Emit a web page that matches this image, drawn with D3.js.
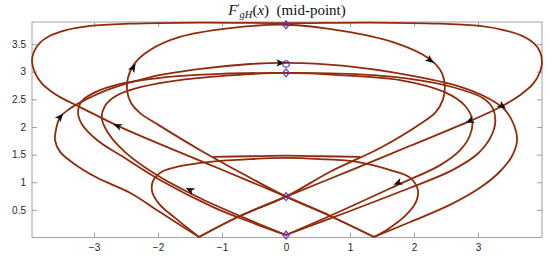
<!DOCTYPE html>
<html><head><meta charset="utf-8">
<script src="https://cdn.jsdelivr.net/npm/d3@7"></script>
<style>body{margin:0;background:#fff}svg{display:block}</style>
</head><body>
<svg id="c" width="550" height="259"></svg>
<script>
const xTicks=[-3,-2,-1,0,1,2,3];
const yTicks=[0.5,1,1.5,2,2.5,3,3.5];
const xDomain=[-3.97,4.0];
const yDomain=[0,3.9];
// outer loop (V-right -> left tip -> top -> right tip -> V-left)
const curveL1=[[1.375,0.01],[0.69,0.39],[0,0.74],[-1.03,1.24],[-1.97,1.69],[-2.63,2.02],[-3.22,2.36],[-3.45,2.49],[-3.64,2.62],[-3.81,2.78],[-3.92,2.97],[-3.97,3.18],[-3.94,3.36],[-3.84,3.53],[-3.69,3.65],[-3.45,3.75],[-3.06,3.83],[-2.44,3.87],[-1.34,3.89],[0,3.88],[1.31,3.89],[2.41,3.87],[3.03,3.83],[3.42,3.75],[3.69,3.65],[3.88,3.51],[3.97,3.36],[4.0,3.18],[3.97,3.0],[3.86,2.78],[3.66,2.58],[3.38,2.38],[2.88,2.11],[1.94,1.66],[1.0,1.21],[0,0.74],[-0.72,0.39],[-1.36,0.01]];
// second loop
const curveL2=[[1.375,0.01],[0.69,0.39],[0,0.74],[-0.64,1.13],[-1.34,1.58],[-1.97,2.02],[-2.28,2.25],[-2.42,2.43],[-2.48,2.63],[-2.47,2.89],[-2.36,3.16],[-2.13,3.39],[-1.66,3.63],[-0.875,3.79],[0,3.85],[0.875,3.74],[1.66,3.54],[2.22,3.25],[2.41,3.03],[2.48,2.76],[2.45,2.49],[2.34,2.27],[2.09,2.05],[1.47,1.62],[0.69,1.19],[0,0.74],[-0.72,0.39],[-1.36,0.01]];
const curveA=[[-1.36,0.01],[-1.97,0.46],[-2.44,0.81],[-2.95,1.08],[-3.33,1.35],[-3.53,1.55],[-3.61,1.76],[-3.59,1.98],[-3.53,2.18],[-3.38,2.33],[-3.14,2.49],[-2.75,2.69],[-2.13,2.90],[-1.34,3.05],[-0.56,3.14],[0,3.16],[0.875,3.11],[1.91,2.94],[2.69,2.74],[3.16,2.52],[3.42,2.31],[3.56,2.04],[3.61,1.76],[3.53,1.47],[3.34,1.19],[3.03,0.90],[2.56,0.59],[1.94,0.28],[1.375,0.01]];
const curveB=[[0,0.045],[-0.56,0.28],[-1.14,0.55],[-1.97,1.04],[-2.55,1.46],[-2.95,1.76],[-3.19,2.05],[-3.25,2.27],[-3.19,2.47],[-2.98,2.63],[-2.59,2.78],[-1.97,2.89],[-1.03,2.96],[0,2.98],[1.0,2.96],[1.94,2.87],[2.64,2.71],[3.08,2.52],[3.23,2.34],[3.27,2.09],[3.2,1.82],[3.0,1.52],[2.6,1.22],[1.94,0.9],[1.0,0.48],[0,0.045]];
const curveC=[[0,0.045],[-0.64,0.35],[-1.34,0.71],[-2.02,1.13],[-2.52,1.55],[-2.78,1.89],[-2.88,2.16],[-2.83,2.38],[-2.66,2.56],[-2.28,2.72],[-1.66,2.85],[-0.80,2.94],[0,2.98],[0.84,2.94],[1.78,2.85],[2.48,2.63],[2.80,2.38],[2.91,2.13],[2.875,1.85],[2.72,1.58],[2.41,1.31],[1.78,0.97],[0.84,0.47],[0,0.045]];
const curveP=[[-1.36,0.01],[-1.73,0.35],[-1.97,0.59],[-2.09,0.82],[-2.08,1.02],[-1.94,1.19],[-1.66,1.29],[-1.19,1.37],[-0.56,1.42],[0,1.44],[0.53,1.42],[1.11,1.37],[1.63,1.22],[1.94,1.08],[2.06,0.86],[2.03,0.64],[1.86,0.39],[1.59,0.15],[1.375,0.01]];
const curveFlat=[[-1.14,1.46],[-0.56,1.47],[0,1.48],[0.56,1.47],[1.16,1.46]];
// arrows: [x, y, dx, dy]
const arrows=[[-2.39,3.07,0.3,0.6],[2.25,3.21,0.28,-0.25],[-3.53,2.18,0.22,0.29],[-2.63,2.02,-0.66,0.33],[-0.09,3.16,1,0],[3.375,2.38,0.27,-0.22],[2.875,2.11,-0.94,-0.45],[-1.5,0.86,-0.83,0.49],[1.75,0.99,-0.7,-0.33]];
const diamonds=[[0,3.85],[0,2.98],[0,0.74],[0,0.045]];
const circles=[[0,3.14]];

const svg=d3.select('#c');
const x=d3.scaleLinear().domain(xDomain).range([32,542]);
const y=d3.scaleLinear().domain(yDomain).range([237.5,22]);
const axisColor='#8a8a8a', lineColor='#922a0c', markColor='#6633cc';

// box
svg.append('rect').attr('x',32).attr('y',22).attr('width',510).attr('height',215.5)
  .attr('fill','none').attr('stroke',axisColor).attr('stroke-width',0.8);
const fnt='"Liberation Sans", Arial, sans-serif';
function styleAxis(g){g.select('.domain').remove();g.selectAll('.tick line').attr('stroke',axisColor).attr('stroke-width',0.8);g.selectAll('text').attr('fill','#262626').attr('font-size',10).attr('font-family',fnt);}
svg.append('g').attr('transform','translate(0,237.5)').call(d3.axisBottom(x).tickValues(xTicks).tickSize(-5).tickPadding(6).tickFormat(d3.format('~g'))).call(styleAxis);
svg.append('g').attr('transform','translate(0,22)').call(d3.axisTop(x).tickValues(xTicks).tickSize(-5).tickFormat('')).call(styleAxis);
svg.append('g').attr('transform','translate(32,0)').call(d3.axisLeft(y).tickValues(yTicks).tickSize(-5).tickPadding(6).tickFormat(d3.format('~g'))).call(styleAxis);
svg.append('g').attr('transform','translate(542,0)').call(d3.axisRight(y).tickValues(yTicks).tickSize(-5).tickFormat('')).call(styleAxis);

const line=d3.line().x(d=>x(d[0])).y(d=>y(d[1])).curve(d3.curveCatmullRom.alpha(0.5));
const plot=svg.append('g');
[curveP,curveFlat,curveC,curveB,curveA,curveL2,curveL1].forEach(c=>{
  plot.append('path').attr('d',line(c)).attr('fill','none').attr('stroke',lineColor).attr('stroke-width',1.8).attr('stroke-linejoin','round');
});

// arrows
arrows.forEach(a=>{
  const px=x(a[0]),py=y(a[1]);
  const qx=x(a[0]+a[2]),qy=y(a[1]+a[3]);
  const ang=Math.atan2(qy-py,qx-px)*180/Math.PI;
  plot.append('path').attr('d','M5,0 L-4,-3.6 L-1.8,0 L-4,3.6 Z')
    .attr('transform',`translate(${px},${py}) rotate(${ang})`).attr('fill','#111');
});

// markers
diamonds.forEach(d=>{
  plot.append('path').attr('d','M0,-4 L3.2,0 L0,4 L-3.2,0 Z').attr('transform',`translate(${x(d[0])},${y(d[1])})`)
    .attr('fill','none').attr('stroke',markColor).attr('stroke-width',1.2);
});
circles.forEach(d=>{
  plot.append('circle').attr('cx',x(d[0])).attr('cy',y(d[1])).attr('r',3.2)
    .attr('fill','none').attr('stroke',markColor).attr('stroke-width',1.2);
});

// title
const t=svg.append('text').attr('x',287).attr('y',15).attr('text-anchor','middle')
  .attr('font-family','"Liberation Serif","Times New Roman",serif').attr('font-size',15).attr('fill','#111');
t.append('tspan').attr('font-style','italic').text('F');
t.append('tspan').attr('dy',-4).attr('font-size',10).text('′');
t.append('tspan').attr('dy',7).attr('font-size',10.5).attr('font-style','italic').text('gH');
t.append('tspan').attr('dy',-3).text('(');
t.append('tspan').attr('font-style','italic').text('x');
t.append('tspan').text(')\u2002(mid-point)');
</script>
</body></html>
